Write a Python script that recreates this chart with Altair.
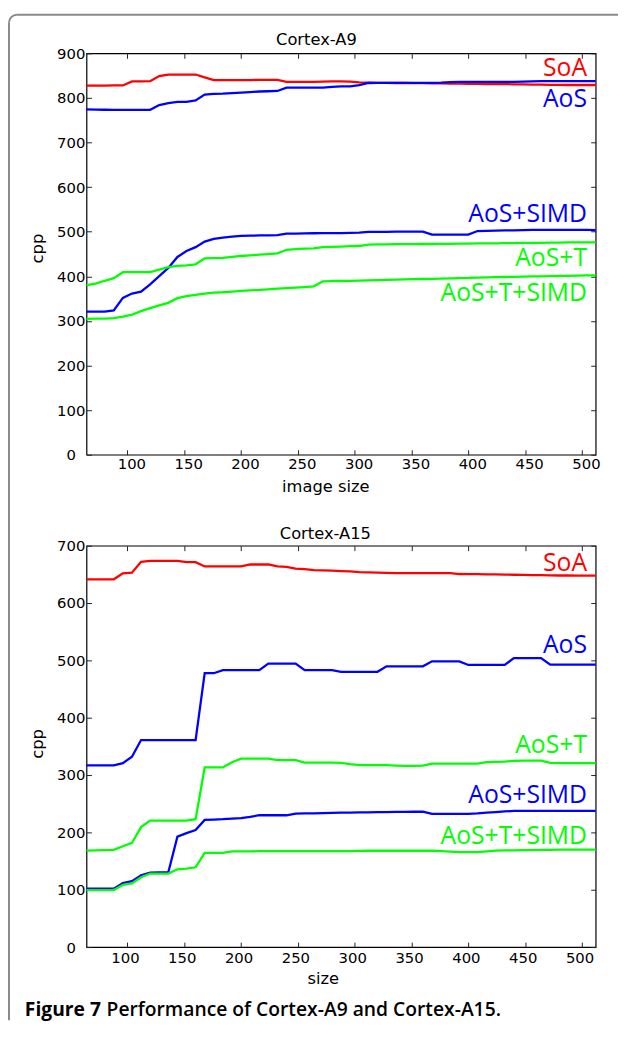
import altair as alt
import pandas as pd

# ---------------- data ----------------
sizes = [64, 72, 80, 88, 96, 104, 112, 120, 128, 136, 144, 152, 160, 168, 176, 184,
         192, 200, 208, 216, 224, 232, 240, 248, 256, 264, 272, 280, 288, 296, 304,
         312, 320, 328, 336, 344, 352, 360, 368, 376, 384, 392, 400, 408, 416, 424,
         432, 440, 448, 456, 464, 472, 480, 488, 496, 504, 512]

series_names = ["SoA", "AoS", "AoS+SIMD", "AoS+T", "AoS+T+SIMD"]
series_colors = ["#ff0000", "#0000ff", "#0000ff", "#00ff00", "#00ff00"]

# Cortex-A9
a9_soa = [827.6, 827.6, 827.6, 828, 828, 837, 837, 837.5, 849, 852.5,
          852.5, 852.5, 852.5, 846, 840, 840, 840, 840, 840, 840.5,
          840.5, 840.5, 836, 836, 836, 836, 836.5, 837, 837, 836.5,
          835, 834.5, 834, 834, 833.5, 833.5, 833, 833, 832.5, 832.5,
          832, 832, 831.5, 831.5, 831, 831, 831, 830.5, 830.5, 830,
          830, 829.5, 829.5, 829, 829, 829, 829]
a9_aos = [774.4, 774, 773.5, 773.4, 773.4, 773.4, 773.4, 773.4, 784, 788.4,
          791.4, 791.4, 794.4, 807.6, 809, 809.6, 811, 812, 813, 814.4,
          815, 815.6, 823, 823, 823, 823, 823, 825, 826, 826,
          828.5, 833.5, 834, 834, 834, 834, 834, 834, 834, 834.5,
          835.5, 836, 836, 836, 836, 836, 836, 836, 836.5, 837,
          837.5, 837.5, 837.5, 837.5, 837.5, 837.5, 837.5]
a9_aos_simd = [320.7, 321, 321, 323.5, 351.7, 361.3, 365.8, 382, 400.5, 419,
               443.4, 456.7, 465.5, 478, 484, 487, 489, 490.6, 491.3, 491.6,
               492, 492.5, 495.8, 496, 496.3, 496.6, 496.8, 497, 497, 497.5,
               498, 499.5, 499.5, 499.5, 500, 500, 500, 500, 493.6, 493.6,
               493.6, 493.6, 493.6, 501.6, 502, 502.5, 503, 503, 503.5, 504,
               504, 504, 504, 504, 504, 504, 503.5]
a9_aos_t = [380.5, 383.5, 390, 396, 409.3, 409.3, 409.3, 409.3, 415, 420.4,
            423.4, 424.8, 427, 440.4, 441, 441.4, 443.5, 445.6, 447, 448.5,
            450, 451.5, 459.6, 461, 462, 462.6, 465.5, 466, 466.8, 467.5,
            468, 471, 471.5, 471.5, 472, 472, 472, 472.5, 472.5, 473,
            473, 473.5, 473.5, 474, 474, 474, 474.5, 474.5, 475, 475,
            475, 475.5, 475.5, 476, 476, 476, 476]
a9_aos_t_simd = [304.5, 305, 305.2, 306.5, 309.7, 314, 322, 328.8, 334.7, 340.6,
                 351, 355.4, 358.4, 361.3, 363.5, 364.3, 365.8, 367.2, 368.3, 369.4,
                 371, 372.4, 373.5, 374.6, 376, 377.6, 388.7, 389, 389.5, 390,
                 390.5, 391, 391.5, 392, 392.5, 393, 393.5, 394, 394.5, 395,
                 395.5, 396, 396.5, 397, 397.5, 398, 398.5, 399, 399.5, 400,
                 400, 400.5, 401, 401, 401.5, 402, 402]

# Cortex-A15
a15_soa = [641.4, 641.4, 641.4, 641.4, 651.7, 652.9, 671.9, 673.6, 673.6, 673.6,
           673.6, 671.3, 671.3, 663.8, 663.8, 663.8, 663.8, 663.8, 667.2, 667.2,
           667.2, 663.8, 663, 659.8, 659.2, 657.5, 657, 656.5, 655.7, 655,
           654, 653.5, 653, 652.5, 652.3, 652.3, 652.3, 652.3, 652.3, 652.3,
           652.3, 650.6, 650.5, 650.3, 650, 649.8, 649.5, 649.3, 649, 648.8,
           648.5, 648.3, 648, 648, 647.8, 647.7, 647.7]
a15_aos = [316.7, 316.7, 316.7, 316.7, 320.7, 332, 361, 361, 361, 361,
           361, 361, 361, 477.6, 477.6, 482.8, 482.8, 482.8, 482.8, 482.8,
           494.2, 494.2, 494.2, 494.2, 482.8, 482.8, 482.8, 482.8, 480, 480,
           480, 480, 480, 489.7, 489.7, 489.7, 489.7, 489.7, 498.3, 498.3,
           498.3, 498.3, 492, 492, 492, 492, 492, 504, 504, 504,
           504, 492.5, 492.5, 492.5, 492.5, 492.5, 492.5]
a15_aos_simd = [101.7, 101.7, 101.7, 101.7, 111.5, 115, 125.3, 129.9, 130.2, 130.5,
                192.5, 198.8, 204, 221.8, 222.4, 223, 224, 224.7, 227, 229.9,
                229.9, 229.9, 229.9, 232.7, 233, 233.3, 233.6, 234, 234.5, 234.6,
                234.8, 235, 235.2, 235.4, 235.6, 235.8, 236, 236.2, 232.2, 232.2,
                232.2, 232.2, 232.2, 233, 234.5, 235.5, 236.5, 237.4, 237.4, 237.4,
                237.4, 237.4, 237.4, 237.4, 237.4, 237.4, 237.4]
a15_aos_t = [168.4, 168.7, 169, 169.5, 175.9, 181.6, 209.2, 220.7, 220.7, 220.7,
             220.7, 220.7, 223, 313.2, 313.2, 313.2, 322.4, 328.7, 328.7, 328.7,
             328.7, 325.9, 325.9, 325.9, 321.8, 321.8, 321.8, 321.8, 321.3, 319,
             317.2, 317.2, 317.2, 317.2, 316.5, 316, 316, 316.5, 320, 320,
             320, 320, 320, 320, 322.4, 322.8, 323.5, 324.7, 325, 325.3,
             325.3, 321.3, 320.7, 320.7, 320.7, 320.7, 320.7]
a15_aos_t_simd = [99.4, 99.4, 99.4, 99.4, 108.6, 110.9, 121.8, 128.2, 128.2, 128.2,
                  135.6, 136.8, 139.1, 164.4, 164.4, 164.4, 166.7, 167, 167, 167.2,
                  167.2, 167.2, 167.2, 167.2, 167.2, 167.2, 167.2, 167.2, 167.2, 167.5,
                  167.8, 168, 168, 168, 168, 168, 168, 168, 168, 167.5,
                  166.5, 165.5, 165.5, 165.5, 167, 168.4, 168.6, 168.8, 169, 169.2,
                  169.4, 169.6, 169.8, 170, 170, 170, 170]

# in-plot series labels (anchor in data units: right edge x, baseline y)
label_x = [504.4, 504.4, 504.4, 504.4, 504.4]
a9_label_y = [849, 780.3, 522.5, 423.4, 343.6]
a15_label_y = [656, 513.3, 250.5, 338, 180.5]

x_tick_values = [100, 150, 200, 250, 300, 350, 400, 450, 500]

titles = ["Cortex-A9", "Cortex-A15"]
x_titles = ["image size", "size"]
y_title = "cpp"
caption_bold = "Figure 7"
caption_rest = "Performance of Cortex-A9 and Cortex-A15."

# ---------------- helpers ----------------
AXFONT = "DejaVu Sans"
LABFONT = "Open Sans"
W, H = 515, 406
TICK = 5

cscale = alt.Scale(domain=series_names, range=series_colors)
xs = alt.Scale(domain=[64, 512], nice=False, zero=False)
one = alt.Data(values=[{"k": 0}])
GRAY = "#8a8a8a"


def long_df(lists):
    rows = []
    for name, vals in zip(series_names, lists):
        for s, v in zip(sizes, vals):
            rows.append({"size": s, "cpp": v, "series": name})
    return pd.DataFrame(rows)


def label_df(ys):
    return pd.DataFrame({"series": series_names, "lx": label_x, "ly": ys})


def tick_axis(orient, vals):
    return alt.Axis(orient=orient, values=vals, offset=-TICK, tickSize=TICK,
                    tickColor="#222222", tickWidth=1, labels=False, title=None,
                    grid=False, domain=False)


def panel(df, ldf, ymax, title_text, title_cx, title_y, x_title,
          x_title_x, x_label_dx, x_label_pad, y_title_y, extra=()):
    ys = alt.Scale(domain=[0, ymax], nice=False, zero=True)
    yvals = list(range(0, ymax + 1, 100))
    x_main = alt.Axis(orient="bottom", values=x_tick_values, ticks=False, tickSize=0,
                      labelPadding=x_label_pad, labelOffset=x_label_dx, labelFlush=False,
                      labelOverlap=False, labelFont=AXFONT, labelFontSize=15,
                      labelColor="black", title=x_title, titleFont=AXFONT,
                      titleFontSize=16.5, titleFontWeight="normal", titleColor="black",
                      titleX=x_title_x, titleY=37, titleBaseline="alphabetic",
                      titleAlign="center", grid=False, domain=False)
    y_main = alt.Axis(orient="left", values=yvals, ticks=False, tickSize=0,
                      labelPadding=16, labelAlign="center", labelBaseline="middle",
                      labelFlush=False, labelOverlap=False, labelFont=AXFONT,
                      labelFontSize=15, labelColor="black", title=y_title,
                      titleFont=AXFONT, titleFontSize=16.5, titleFontWeight="normal",
                      titleColor="black", titleX=-44.5, titleY=y_title_y,
                      titleAngle=270, titleBaseline="alphabetic", titleAlign="center",
                      grid=False, domain=False)

    lines = alt.Chart(df).mark_line(strokeWidth=2.3).encode(
        x=alt.X("size:Q", scale=xs, axis=x_main),
        y=alt.Y("cpp:Q", scale=ys, axis=y_main),
        color=alt.Color("series:N", scale=cscale, legend=None),
    )
    ticks_a = alt.Chart(df).mark_point(opacity=0).encode(
        x=alt.X("size:Q", scale=xs, axis=tick_axis("bottom", x_tick_values)),
        y=alt.Y("cpp:Q", scale=ys, axis=tick_axis("left", yvals)),
    )
    ticks_b = alt.Chart(df).mark_point(opacity=0).encode(
        x=alt.X("size:Q", scale=xs, axis=tick_axis("top", x_tick_values)),
        y=alt.Y("cpp:Q", scale=ys, axis=tick_axis("right", yvals)),
    )
    labels = alt.Chart(ldf).mark_text(font=LABFONT, fontSize=25, align="right",
                                      baseline="alphabetic").encode(
        x=alt.X("lx:Q", scale=xs, axis=None),
        y=alt.Y("ly:Q", scale=ys, axis=None),
        text="series:N",
        color=alt.Color("series:N", scale=cscale, legend=None),
    )
    ttl = alt.Chart(one).mark_text(text=title_text, font=AXFONT, fontSize=16.5,
                                   align="center", baseline="alphabetic",
                                   color="black").encode(
        x=alt.value(title_cx), y=alt.value(title_y))
    return alt.layer(lines, ticks_a, ticks_b, labels, ttl, *extra).resolve_axis(
        x="independent", y="independent"
    ).properties(width=W, height=H)


# figure frame (left and top edges with a rounded corner)
frame_left = alt.Chart(one).mark_rule(color=GRAY, strokeWidth=2).encode(
    x=alt.value(-78.4), y=alt.value(-31), y2=alt.value(978))
frame_top = alt.Chart(one).mark_rule(color=GRAY, strokeWidth=2).encode(
    x=alt.value(-70.4), x2=alt.value(538), y=alt.value(-39))
frame_corner = alt.Chart(one).mark_arc(color=GRAY).encode(
    x=alt.value(-70.4), y=alt.value(-31), theta=alt.value(4.7124),
    theta2=alt.value(6.2832), radius=alt.value(9), radius2=alt.value(7))

cap1 = alt.Chart(one).mark_text(text=caption_bold, font=LABFONT, fontSize=19.5,
                                fontWeight="bold", align="left", baseline="alphabetic",
                                color="black").encode(x=alt.value(-62.4), y=alt.value(475.5))
cap2 = alt.Chart(one).mark_text(text=caption_rest, font=LABFONT, fontSize=19.5,
                                fontWeight=600, align="left", baseline="alphabetic",
                                color="black").encode(x=alt.value(20.3), y=alt.value(475.5))

top = panel(long_df([a9_soa, a9_aos, a9_aos_simd, a9_aos_t, a9_aos_t_simd]),
            label_df(a9_label_y), 900, titles[0], 232.6, -8.7, x_titles[0],
            241.6, 4, 2, 197, extra=(frame_left, frame_top, frame_corner))
bottom = panel(long_df([a15_soa, a15_aos, a15_aos_simd, a15_aos_t, a15_aos_t_simd]),
               label_df(a15_label_y), 700, titles[1], 241.6, -6.7, x_titles[1],
               239, -2.5, 4, 200, extra=(cap1, cap2))

# fixed canvas: view width 515 (height 0) plus padding -> 617 x 1020,
# with the top plot's origin at (79.4, 40)
chart = alt.vconcat(top, bottom, spacing=92, bounds="flush").properties(
    autosize=alt.AutoSizeParams(type="none"),
    padding={"left": 79.4, "top": 40, "right": 22.6, "bottom": 980},
).configure_view(stroke="black", strokeWidth=1.2)

chart.save("out.html", embed_options={"renderer": "svg", "actions": False})
